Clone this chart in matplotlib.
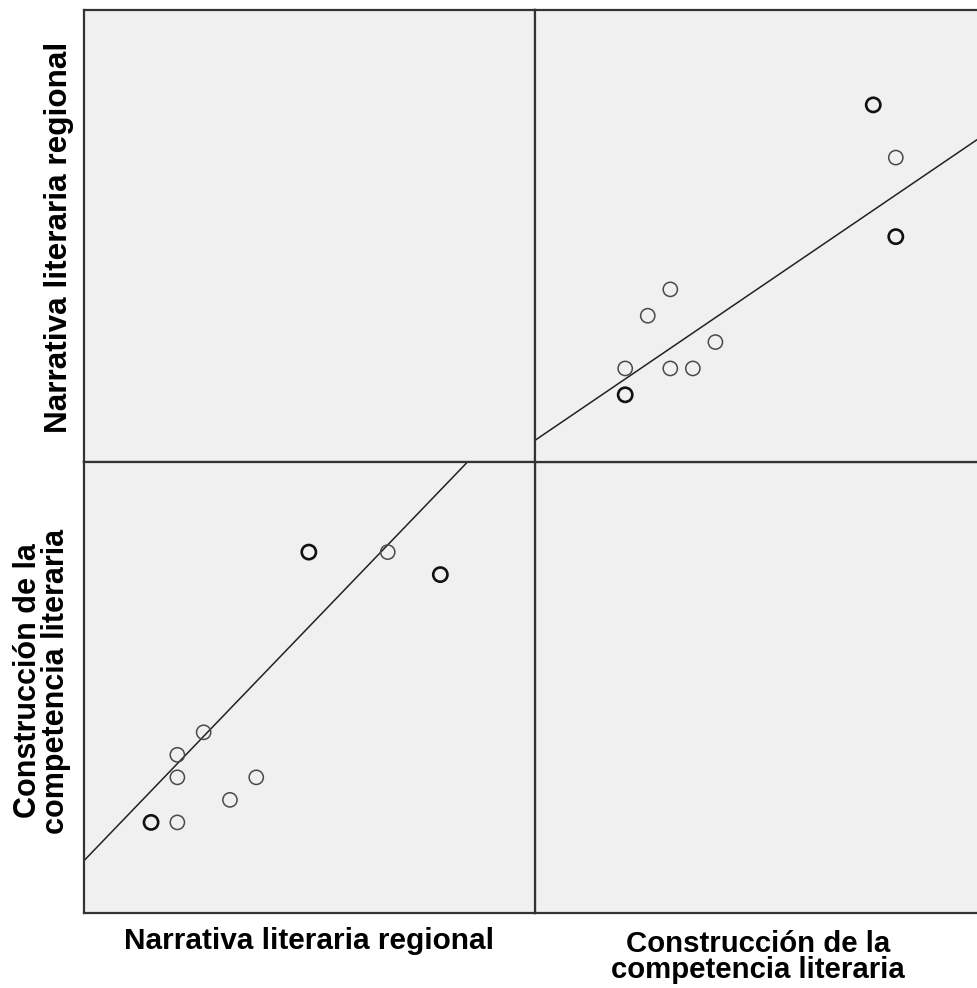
import matplotlib
matplotlib.use("Agg")
import matplotlib.pyplot as plt
import numpy as np

# Data (relative scores), duplicates listed as repeated cases
narrativa = [0]*5 + [1, 1, 1, 2, 3, 4] + [6]*10 + [9] + [11]*4
construccion = [0]*5 + [0, 2, 3, 4, 1, 2] + [12]*10 + [12] + [11]*4

var_names = ["Narrativa literaria regional", "Construcción de la\ncompetencia literaria"]
lims = {"N": (-2.55, 14.6), "C": (-4.0, 16.0)}

W, H = 978, 988
fig = plt.figure(figsize=(W/100, H/100), dpi=100)
fig.patch.set_facecolor("white")

def px_axes(x0, y0, x1, y1):
    return fig.add_axes([x0/W, 1 - y1/H, (x1-x0)/W, (y1-y0)/H])

x_left, x_mid, x_right = 84, 535, 986
y_top, y_mid, y_bot = 10, 462, 912.5

bg = "#f0f0f0"
frame = "#333333"

def style(ax):
    ax.set_facecolor(bg)
    ax.set_xticks([]); ax.set_yticks([])
    for s in ax.spines.values():
        s.set_color(frame); s.set_linewidth(1.6)

ax_tl = px_axes(x_left, y_top, x_mid, y_mid); style(ax_tl)
ax_br = px_axes(x_mid, y_mid, x_right, y_bot); style(ax_br)

def scatter_panel(ax, x, y, xl, yl):
    x = np.asarray(x, float); y = np.asarray(y, float)
    pts, counts = np.unique(np.column_stack([x, y]), axis=0, return_counts=True)
    single = counts == 1
    ax.scatter(pts[single, 0], pts[single, 1], s=105, facecolors="none",
               edgecolors="#4a4a4a", linewidths=1.1, zorder=3)
    ax.scatter(pts[~single, 0], pts[~single, 1], s=105, facecolors="none",
               edgecolors="#111111", linewidths=1.9, zorder=3)
    b, a = np.polyfit(x, y, 1)
    xs = np.array(xl)
    ax.plot(xs, a + b*xs, color="#222222", lw=1.1, zorder=2)
    ax.set_xlim(xl); ax.set_ylim(yl)

ax_bl = px_axes(x_left, y_mid, x_mid, y_bot); style(ax_bl)
scatter_panel(ax_bl, narrativa, construccion, lims["N"], lims["C"])
ax_tr = px_axes(x_mid, y_top, x_right, y_mid); style(ax_tr)
scatter_panel(ax_tr, construccion, narrativa, lims["C"], lims["N"])

fkw = dict(fontweight="bold", family="Liberation Sans", color="black")
fig.text(309/W, 1 - 941/H, var_names[0], ha="center", va="center", fontsize=21.4, **fkw)
fig.text(758/W, 1 - 957/H, var_names[1], ha="center", va="center", linespacing=0.92, fontsize=21.2, **fkw)
fig.text(59/W, 1 - 237/H, var_names[0], ha="center", va="center", rotation=90, fontsize=22.7, **fkw)
fig.text(42/W, 1 - 681/H, var_names[1], ha="center", va="center", rotation=90, linespacing=0.92, fontsize=22, **fkw)

fig.savefig("out.png", dpi=100, facecolor="white")
